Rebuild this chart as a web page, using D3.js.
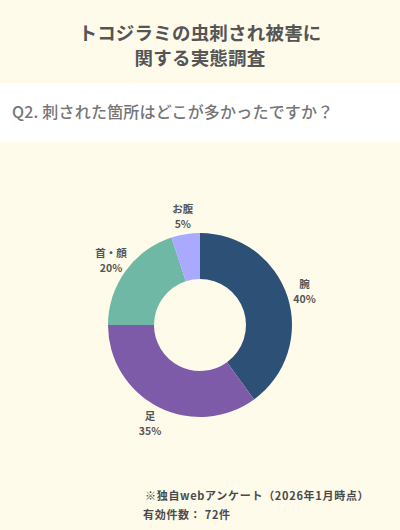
<!DOCTYPE html>
<html><head><meta charset="utf-8">
<script src="https://cdn.jsdelivr.net/npm/d3@7"></script>
<style>
html,body{margin:0;padding:0;background:#fefbeb;}
svg{display:block;}
text{font-family:"Noto Sans CJK JP","Noto Sans",sans-serif;}
</style></head>
<body>
<svg id="c" width="400" height="530"></svg>
<script>
const categories = ["腕", "足", "首・顔", "お腹"];
const values = [40, 35, 20, 5];
const colors = ["#2d5176", "#7e5ba9", "#70b8a6", "#a9aaff"];
const titleLines = ["トコジラミの虫刺され被害に", "関する実態調査"];
const question = "Q2. 刺された箇所はどこが多かったですか？";
const notes = ["※独自webアンケート（2026年1月時点）", "有効件数： 72件"];

const svg = d3.select("#c");
svg.append("rect").attr("width",400).attr("height",530).attr("fill","#fefbeb");
svg.append("rect").attr("x",0).attr("y",83).attr("width",400).attr("height",59).attr("fill","#ffffff");

svg.selectAll("text.title").data(titleLines).join("text")
  .attr("class","title")
  .attr("x",200).attr("y",(d,i)=>40+i*25)
  .attr("text-anchor","middle")
  .attr("font-size",18.5).attr("font-weight",700).attr("fill","#555555")
  .attr("letter-spacing",0.2)
  .text(d=>d);

svg.append("text").attr("x",12).attr("y",118)
  .attr("font-size",16).attr("font-weight",500).attr("fill","#757575")
  .attr("letter-spacing",0.2)
  .text(question);

const cx=200, cy=325, R=92, r=46, lr=110;
const pie = d3.pie().sort(null).value(d=>d.v);
const data = pie(categories.map((c,i)=>({c, v:values[i], col:colors[i]})));
const arc = d3.arc().innerRadius(r).outerRadius(R);
const g = svg.append("g").attr("transform",`translate(${cx},${cy})`);
g.selectAll("path").data(data).join("path").attr("d",arc).attr("fill",d=>d.data.col);

const lab = d3.arc().innerRadius(lr).outerRadius(lr);
const lg = g.selectAll("g.lab").data(data).join("g").attr("class","lab")
  .attr("transform",d=>`translate(${lab.centroid(d)})`);
lg.append("text").attr("y",-3).attr("text-anchor","middle")
  .attr("font-size",10.5).attr("font-weight",700).attr("fill","#555555")
  .text(d=>d.data.c);
lg.append("text").attr("y",12).attr("text-anchor","middle")
  .attr("font-size",10.5).attr("font-weight",700).attr("fill","#555555")
  .text(d=>d.data.v+"%");

svg.selectAll("text.note").data(notes).join("text").attr("class","note")
  .attr("x",(d,i)=>i===0?145:143).attr("y",(d,i)=>500+i*19)
  .attr("font-size",11).attr("font-weight",700).attr("fill","#4a4a4a")
  .attr("letter-spacing",0.7)
  .text(d=>d);
</script>
</body></html>
